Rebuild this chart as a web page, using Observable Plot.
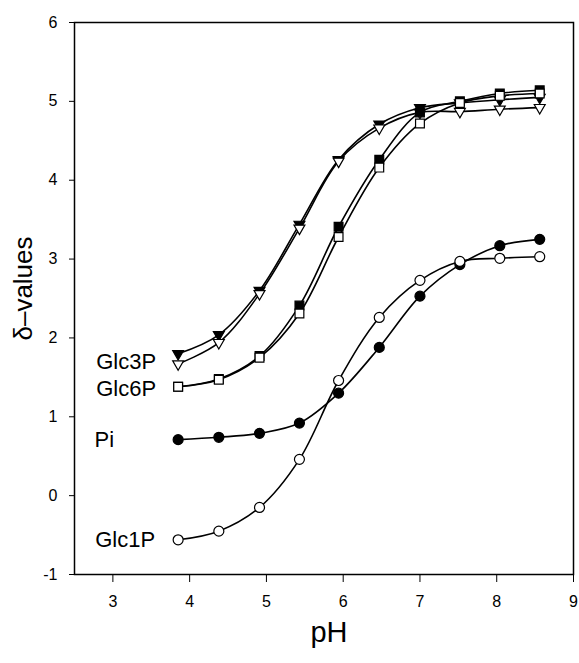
<!DOCTYPE html>
<html><head><meta charset="utf-8">
<script src="https://cdn.jsdelivr.net/npm/d3@7"></script>
<script src="https://cdn.jsdelivr.net/npm/@observablehq/plot@0.6"></script>
<style>html,body{margin:0;padding:0;background:#fff}</style>
</head><body><div id="chart"></div>
<script>
// pH values (x)
const pH = [3.85, 4.38, 4.91, 5.43, 5.94, 6.47, 7.00, 7.52, 8.04, 8.56];
// δ-values per series
const glc3PFilled = [1.80, 2.04, 2.60, 3.44, 4.26, 4.71, 4.92, 4.98, 5.02, 5.05];
const glc3POpen   = [1.67, 1.94, 2.56, 3.39, 4.24, 4.66, 4.86, 4.87, 4.90, 4.92];
const glc6PFilled = [1.38, 1.48, 1.77, 2.41, 3.41, 4.26, 4.86, 5.00, 5.10, 5.14];
const glc6POpen   = [1.38, 1.47, 1.75, 2.31, 3.28, 4.16, 4.72, 4.98, 5.07, 5.10];
const piValues    = [0.71, 0.74, 0.79, 0.92, 1.30, 1.88, 2.53, 2.93, 3.17, 3.25];
const glc1PValues = [-0.56, -0.45, -0.15, 0.46, 1.46, 2.26, 2.73, 2.97, 3.01, 3.03];

const xTicks = [3, 4, 5, 6, 7, 8, 9];
const yTicks = [-1, 0, 1, 2, 3, 4, 5, 6];
const labelNames = ["Glc3P", "Glc6P", "Pi", "Glc1P"];
const xTitle = "pH";
const yTitle = "δ–values";

const rows = (vals) => pH.map((x, i) => ({x, y: vals[i]}));

const downTriangle = {
  draw(ctx, size) {
    const s = Math.sqrt(size) * 0.6824, t = s / 2, u = s * Math.sqrt(3) / 2;
    ctx.moveTo(0, s); ctx.lineTo(u, -t); ctx.lineTo(-u, -t); ctx.closePath();
  }
};

const series = [
  {data: rows(glc3PFilled), symbol: downTriangle, fill: "black", r: 5.2},
  {data: rows(glc3POpen),   symbol: downTriangle, fill: "white", r: 5.2},
  {data: rows(glc6PFilled), symbol: "square2", fill: "black", r: 5.6},
  {data: rows(glc6POpen),   symbol: "square2", fill: "white", r: 5.6},
  {data: rows(piValues),    symbol: "circle", fill: "black", r: 5},
  {data: rows(glc1PValues), symbol: "circle", fill: "white", r: 5}
];

const seriesMarks = series.flatMap(s => [
  Plot.line(s.data, {x: "x", y: "y", curve: "catmull-rom", stroke: "black", strokeWidth: 1.6}),
  Plot.dot(s.data, {x: "x", y: "y", symbol: s.symbol, r: s.r, fill: s.fill, stroke: "black", strokeWidth: 1.2})
]);

const labelAt = (name, vals, dx, dy) =>
  Plot.text([{x: pH[0], y: vals[0], t: name}], {x: "x", y: "y", text: "t", textAnchor: "end", dx, dy, fontSize: 22, fill: "black"});

const fmt = (d) => String(d);

const chart = Plot.plot({
  width: 579, height: 663,
  marginLeft: 74, marginRight: 6, marginTop: 22, marginBottom: 89,
  x: {domain: [2.5, 9]},
  y: {domain: [-1, 6]},
  style: {fontFamily: "'Liberation Sans', Arial, sans-serif", fontSize: "16px", color: "black", background: "white", overflow: "visible"},
  marks: [
    Plot.frame({stroke: "black", strokeWidth: 1.5}),
    Plot.axisX({ticks: xTicks, tickFormat: fmt, tickSize: 8, tickPadding: 13, label: null, fontSize: 16}),
    Plot.axisY({ticks: yTicks, tickFormat: fmt, tickSize: 5, tickPadding: 12, label: null, fontSize: 16}),
    ...seriesMarks,
    labelAt(labelNames[0], glc3POpen, -22, -2),
    labelAt(labelNames[1], glc6POpen, -22, 2),
    labelAt(labelNames[2], piValues, -64, 0),
    labelAt(labelNames[3], glc1PValues, -23, 0),
    Plot.text([xTitle], {frameAnchor: "bottom", dy: 67, dx: 5, fontSize: 29, fill: "black"}),
    Plot.text([yTitle], {frameAnchor: "left", textAnchor: "middle", rotate: -90, dx: -51, dy: -10, fontSize: 26, fill: "black"})
  ]
});
document.getElementById("chart").append(chart);
</script>
</body></html>
